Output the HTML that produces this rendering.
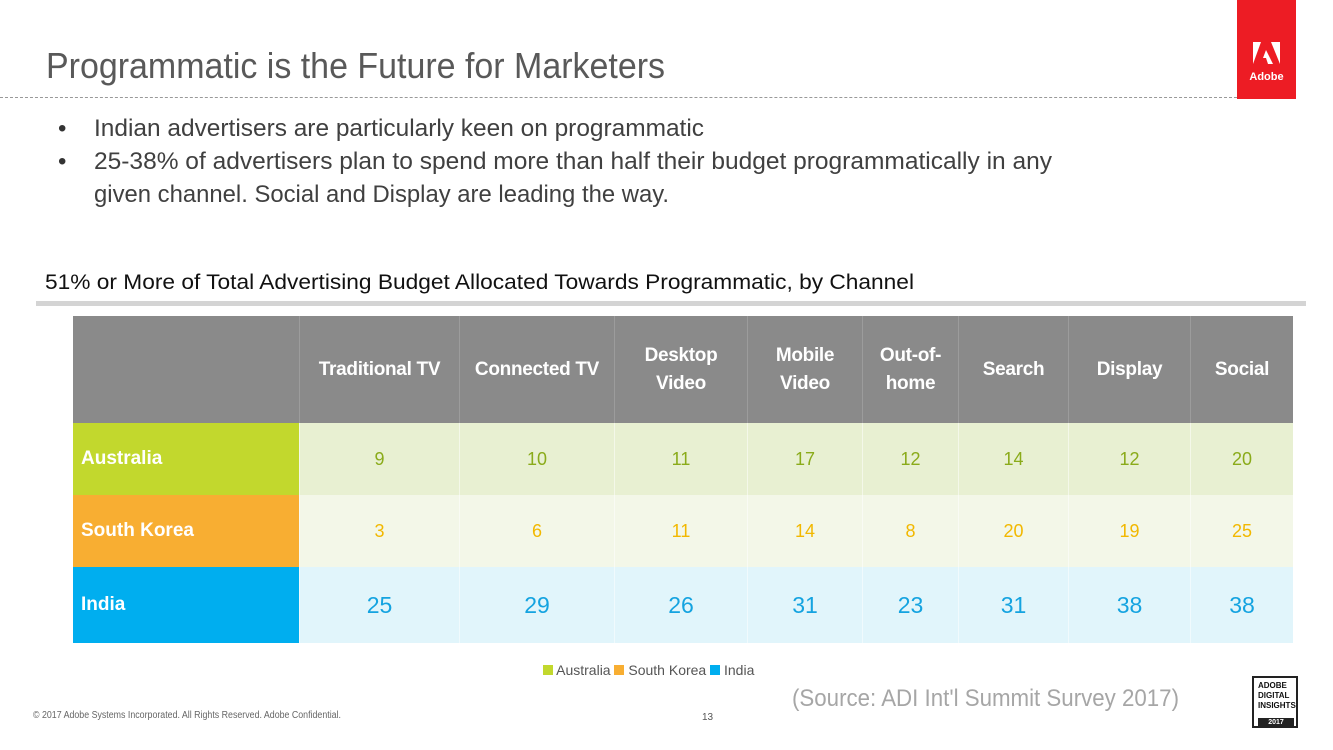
<!DOCTYPE html>
<html><head><meta charset="utf-8">
<style>
body{margin:0;width:1333px;height:750px;background:#fff;position:relative;overflow:hidden;font-family:"Liberation Sans",sans-serif;}
.abs{position:absolute;white-space:nowrap;}
.fit{display:inline-block;transform-origin:0 0;}
.cell{position:absolute;box-sizing:border-box;display:flex;align-items:center;justify-content:center;text-align:center;}
</style></head><body>
<div class="abs fit" data-w="619" style="left:46px;top:45px;font-size:36px;color:#595959;">Programmatic is the Future for Marketers</div>
<div class="abs" style="left:0;top:97px;width:1237px;border-top:1px dashed #999;"></div>
<div class="abs" style="left:1237px;top:0;width:59px;height:99px;background:#ed1c24;">
 <svg width="59" height="99"><polygon points="16,42 24,42 16,64" fill="#fff"/><polygon points="34,42 43,42 43,64" fill="#fff"/><polygon points="29,50 36,64 31,64 29,58 26,58" fill="#fff"/><text x="29.5" y="80" font-size="11" font-weight="bold" fill="#fff" text-anchor="middle" font-family="Liberation Sans">Adobe</text></svg>
</div>
<div class="abs" style="left:58px;top:115px;font-size:24px;color:#333;">•</div>
<div class="abs fit" data-w="610" style="left:94px;top:115px;font-size:24px;color:#404040;">Indian advertisers are particularly keen on programmatic</div>
<div class="abs" style="left:58px;top:148px;font-size:24px;color:#333;">•</div>
<div class="abs fit" data-w="958" style="left:94px;top:148px;font-size:24px;color:#404040;">25-38% of advertisers plan to spend more than half their budget programmatically in any</div>
<div class="abs fit" data-w="575" style="left:94px;top:181px;font-size:24px;color:#404040;">given channel. Social and Display are leading the way.</div>
<div class="abs fit" data-w="869" style="left:45px;top:271px;font-size:21px;color:#111;">51% or More of Total Advertising Budget Allocated Towards Programmatic, by Channel</div>
<div class="abs" style="left:36px;top:301px;width:1270px;height:5px;background:#d4d4d4;"></div>
<div id="tbl"></div>
<div class="abs" style="left:543px;top:662px;font-size:14px;color:#555;">
<span><span style="display:inline-block;width:10px;height:10px;background:#c2d82d;"></span> Australia</span>
<span><span style="display:inline-block;width:10px;height:10px;background:#f8ae32;"></span> South Korea</span>
<span><span style="display:inline-block;width:10px;height:10px;background:#00aeef;"></span> India</span></div>
<div class="abs fit" data-w="387" style="left:792px;top:685px;font-size:24px;color:#a6a6a6;">(Source: ADI Int'l Summit Survey 2017)</div>
<div class="abs fit" data-w="308" style="left:33px;top:710px;font-size:10px;color:#666;">© 2017 Adobe Systems Incorporated. All Rights Reserved. Adobe Confidential.</div>
<div class="abs" style="left:702px;top:712px;font-size:10px;color:#555;">13</div>
<div class="abs" style="left:1252px;top:676px;width:46px;height:52px;border:2px solid #222;box-sizing:border-box;font-size:8px;font-weight:bold;line-height:10px;padding:3px 0 0 4px;color:#111;">ADOBE<br>DIGITAL<br>INSIGHTS<div style="position:absolute;left:4px;bottom:-2px;width:36px;height:10px;background:#222;color:#fff;font-size:7px;text-align:center;line-height:10px;">2017</div></div>
<script>
const channels=["Traditional TV","Connected TV","Desktop<br>Video","Mobile<br>Video","Out-of-<br>home","Search","Display","Social"];
const countries=["Australia","South Korea","India"];
const australia=[9,10,11,17,12,14,12,20];
const southKorea=[3,6,11,14,8,20,19,25];
const india=[25,29,26,31,23,31,38,38];
const series=[australia,southKorea,india];
const colX=[73,299,459,614,747,862,958,1068,1190,1293];
const rowY=[316,423,495,567,643];
const labelBg=["#c2d82d","#f8ae32","#00aeef"];
const rowBg=["#e8f0d2","#f3f7e8","#e1f5fb"];
const valColor=["#8aab1a","#f2b800","#14a3e0"];
const valSize=[18,18,23];
const tbl=document.getElementById('tbl');
function cell(x0,x1,y0,y1,bg,html,style){
  const d=document.createElement('div');
  d.className='cell';
  d.style.cssText=`left:${x0}px;top:${y0}px;width:${x1-x0}px;height:${y1-y0}px;background:${bg};`+style;
  d.innerHTML=html;tbl.appendChild(d);return d;
}
let c=cell(colX[0],colX[1],rowY[0],rowY[1],'#8a8a8a','','');


channels.forEach((ch,i)=>{
  const d=cell(colX[i+1],colX[i+2],rowY[0],rowY[1],'#8a8a8a',ch,'color:#fff;font-weight:bold;font-size:19px;line-height:28px;border-left:1px solid #9c9c9c;letter-spacing:-0.3px;');
  
  
});
countries.forEach((co,r)=>{
  const l=cell(colX[0],colX[1],rowY[r+1],rowY[r+2],labelBg[r],co,'justify-content:flex-start;padding-left:8px;color:#fff;font-weight:bold;font-size:19px;');
  
  
  series[r].forEach((v,i)=>{
    const d=cell(colX[i+1],colX[i+2],rowY[r+1],rowY[r+2],rowBg[r],String(v),`color:${valColor[r]};font-size:${valSize[r]}px;border-left:1px solid rgba(255,255,255,0.5);`);
    
    
  });
});
document.querySelectorAll('[data-w]').forEach(e=>{
  const w=e.getBoundingClientRect().width;
  e.style.transform=`scaleX(${(+e.dataset.w)/w})`;
});
</script>
</body></html>
